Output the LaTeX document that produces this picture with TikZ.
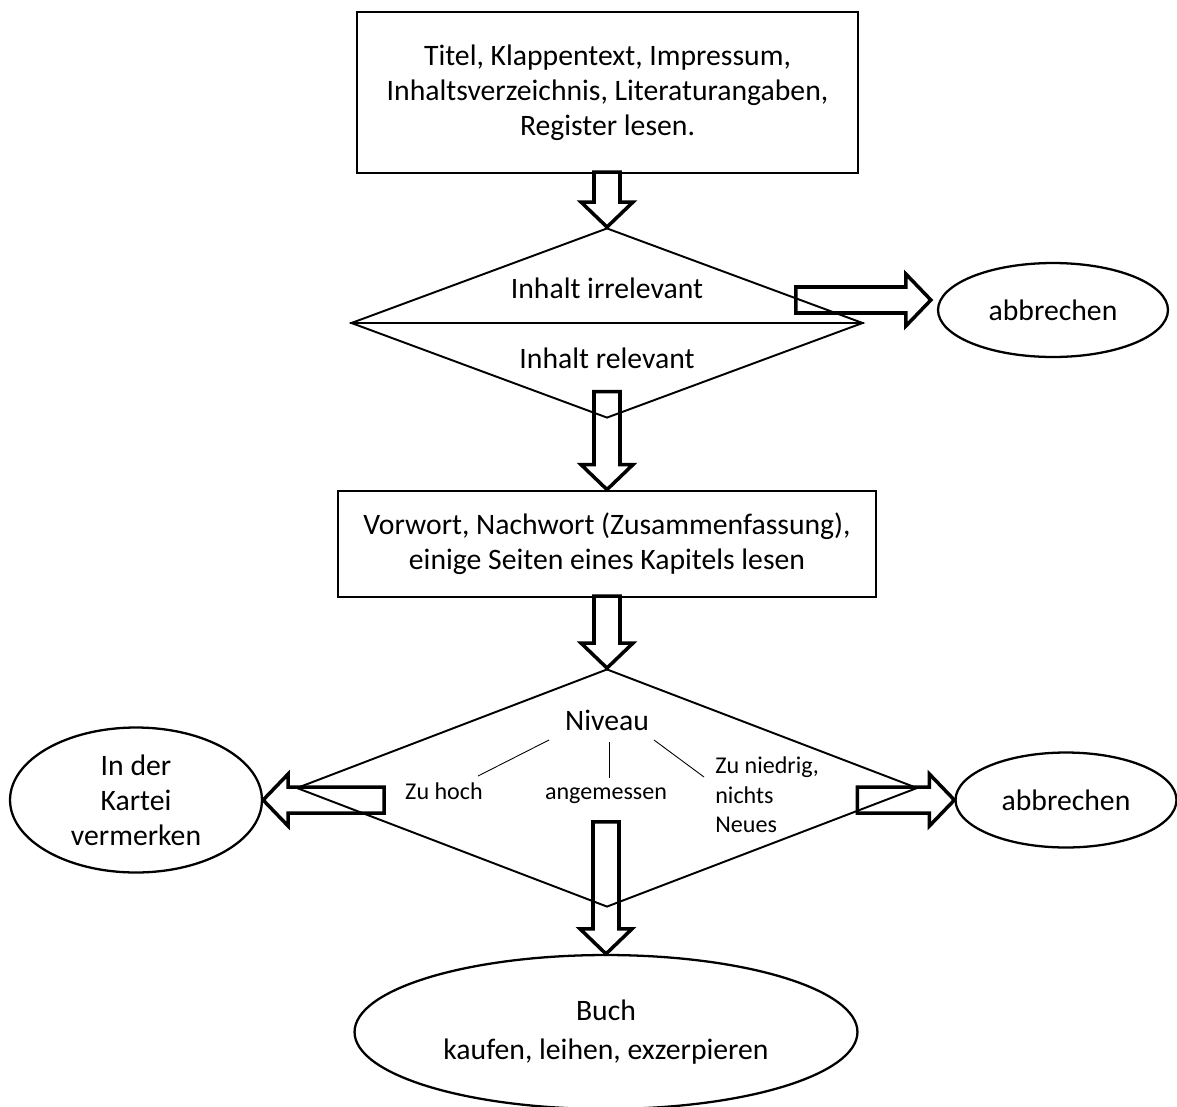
\documentclass[tikz,border=0pt]{standalone}
\usepackage{fontspec}
\setmainfont{Carlito}
\usetikzlibrary{shapes.geometric}
\tikzset{
  textfont/.style={font=\fontsize{16.9}{19.8}\selectfont},
  box/.style={draw,line width=1.6pt,align=center,inner sep=0pt,textfont},
  raute/.style={draw,diamond,line width=1.1pt,inner sep=0pt},
  oval/.style={draw,ellipse,line width=1.3pt,align=center,inner sep=0pt,textfont},
  label/.style={inner sep=0pt,textfont},
  option/.style={inner sep=0pt,text height=0.7em,text depth=0.22em,font=\fontsize{13.7}{16.8}\selectfont},
  fine/.style={line width=0.5pt},
  hollow/.style={line width=2pt,line join=miter},
  pics/hollowarrow/.style={code={
    \draw[hollow] (0,0) -- (-26,-25) -- (-13,-25) -- (-13,-#1) -- (13,-#1) -- (13,-25) -- (26,-25) -- cycle;
  }},
}
\begin{document}
\begin{tikzpicture}[x=0.02cm,y=-0.02cm]
  \useasboundingbox (0,0) rectangle (1177,1106);
  \node[box,minimum width=10.02cm,minimum height=3.22cm] (titel) at (607.5,92.5)
    {Titel, Klappentext, Impressum,\\Inhaltsverzeichnis, Literaturangaben,\\Register lesen.};
  \node[raute,minimum width=10.24cm,minimum height=3.8cm] (inhalt) at (607,323) {};
  \draw[line width=0.9pt] (inhalt.west) -- (inhalt.east);
  \node[label] (irrel) at (607,288) {Inhalt irrelevant};
  \node[label] (rel) at (607,358) {Inhalt relevant};
  \node[oval,minimum width=4.6cm,minimum height=1.88cm] (abbr1) at (1053,310) {abbrechen};
%%%
  \node[box,minimum width=10.76cm,minimum height=2.12cm] (lesen) at (607,544)
    {Vorwort, Nachwort (Zusammenfassung),\\einige Seiten eines Kapitels lesen};
  \node[raute,minimum width=12.42cm,minimum height=4.76cm] (niveau) at (607,788) {};
  \node[label] (nivtext) at (607,720) {Niveau};
  \node[option] (zuhoch) at (444,795) {Zu hoch};
  \node[option] (angem) at (606,795) {angemessen};
  \node[option,align=left,anchor=west,text height=,text depth=] (zuniedrig) at (715,795) {Zu niedrig,\\nichts\\Neues};
  \draw[fine] ([shift={(-58,20)}]nivtext.center) -- ([shift={(34,-19)}]zuhoch.center);
  \draw[fine] ([shift={(2,22)}]nivtext.center) -- ([shift={(3,-17)}]angem.center);
  \draw[fine] ([shift={(47,20)}]nivtext.center) -- ([shift={(-11,-18)}]zuniedrig.west);
  \node[oval,minimum width=5.04cm,minimum height=2.9cm] (kartei) at (136,800) {In der\\Kartei\\vermerken};
  \node[oval,minimum width=4.42cm,minimum height=1.9cm] (abbr2) at (1066,800) {abbrechen};
  \node[oval,minimum width=10.06cm,minimum height=3.08cm] (buch) at (606,1032) {Buch\\[2pt]kaufen, leihen, exzerpieren};
%%%
  \pic at (inhalt.north) {hollowarrow=55};
  \pic[rotate=90] at ([shift={(-6,-10)}]abbr1.west) {hollowarrow=135};
  \pic at (lesen.north) {hollowarrow=98};
  \pic at (niveau.north) {hollowarrow=72};
  \pic[rotate=-90] at (kartei.east) {hollowarrow=121};
  \pic[rotate=90] at (abbr2.west) {hollowarrow=97};
  \pic at (buch.north) {hollowarrow=132};
\end{tikzpicture}
\end{document}
